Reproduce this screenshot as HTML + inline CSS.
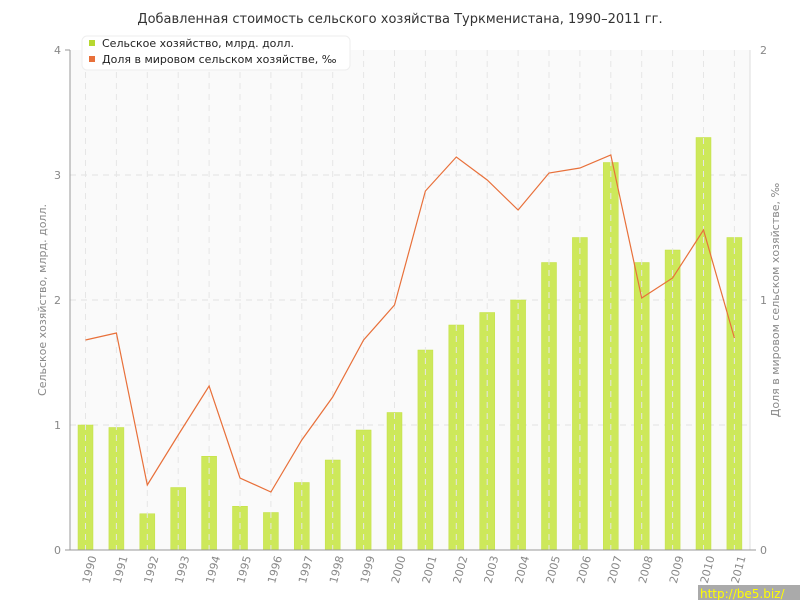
<!DOCTYPE html>
<html><head><meta charset="utf-8"><style>body{margin:0;background:#fff}svg{display:block}</style></head><body>
<svg width="800" height="600" xmlns="http://www.w3.org/2000/svg" font-family="'DejaVu Sans','Liberation Sans',sans-serif">
<rect width="800" height="600" fill="#fff"/>
<text x="400" y="23" text-anchor="middle" font-size="13" fill="#333">Добавленная стоимость сельского хозяйства Туркменистана, 1990–2011 гг.</text>
<rect x="70" y="50" width="680" height="500" fill="#fafafa"/>
<g stroke="#e2e2e2" stroke-dasharray="6,5" stroke-width="1">
<line x1="70" y1="175" x2="750" y2="175"/><line x1="70" y1="300" x2="750" y2="300"/><line x1="70" y1="425" x2="750" y2="425"/>
</g>
<g fill="#cde85a" stroke="#c2e040" stroke-width="0.5">
<rect x="78" y="425" width="15" height="125"/>
<rect x="108.9" y="427.5" width="15" height="122.5"/>
<rect x="139.8" y="513.75" width="15" height="36.25"/>
<rect x="170.7" y="487.5" width="15" height="62.5"/>
<rect x="201.6" y="456.25" width="15" height="93.75"/>
<rect x="232.5" y="506.25" width="15" height="43.75"/>
<rect x="263.4" y="512.5" width="15" height="37.5"/>
<rect x="294.3" y="482.5" width="15" height="67.5"/>
<rect x="325.2" y="460" width="15" height="90"/>
<rect x="356.1" y="430" width="15" height="120"/>
<rect x="387" y="412.5" width="15" height="137.5"/>
<rect x="417.9" y="350" width="15" height="200"/>
<rect x="448.8" y="325" width="15" height="225"/>
<rect x="479.7" y="312.5" width="15" height="237.5"/>
<rect x="510.6" y="300" width="15" height="250"/>
<rect x="541.5" y="262.5" width="15" height="287.5"/>
<rect x="572.4" y="237.5" width="15" height="312.5"/>
<rect x="603.3" y="162.5" width="15" height="387.5"/>
<rect x="634.2" y="262.5" width="15" height="287.5"/>
<rect x="665.1" y="250" width="15" height="300"/>
<rect x="696" y="137.5" width="15" height="412.5"/>
<rect x="726.9" y="237.5" width="15" height="312.5"/>
</g>
<path stroke="#e6e6e6" stroke-dasharray="6,5" d="M85.5 50V550M116.4 50V550M147.3 50V550M178.2 50V550M209.1 50V550M240 50V550M270.9 50V550M301.8 50V550M332.7 50V550M363.6 50V550M394.5 50V550M425.4 50V550M456.3 50V550M487.2 50V550M518.1 50V550M549 50V550M579.9 50V550M610.8 50V550M641.7 50V550M672.6 50V550M703.5 50V550M734.4 50V550"/>
<polyline fill="none" stroke="#e8703a" stroke-width="1.2" points="85.5,340 116.4,333 147.3,485 178.2,435 209.1,386 240,478 270.9,492 301.8,440 332.7,397 363.6,340 394.5,305 425.4,191 456.3,157 487.2,180 518.1,210 549,173 579.9,168 610.8,155 641.7,298 672.6,278 703.5,230 734.4,338"/>
<line x1="70" y1="50" x2="70" y2="550" stroke="#999"/>
<line x1="750" y1="50" x2="750" y2="550" stroke="#ddd"/>
<line x1="65" y1="550" x2="756" y2="550" stroke="#999"/>
<line x1="65" y1="50" x2="70" y2="50" stroke="#999"/>
<g font-size="11" fill="#888" text-anchor="end">
<text x="61" y="54">4</text><text x="61" y="179">3</text><text x="61" y="304">2</text><text x="61" y="429">1</text><text x="61" y="554">0</text>
</g>
<g font-size="11" fill="#888">
<text x="760" y="54">2</text><text x="760" y="304">1</text><text x="760" y="554">0</text>
</g>
<text transform="translate(46,300) rotate(-90)" text-anchor="middle" font-size="11" fill="#888">Сельское хозяйство, млрд. долл.</text>
<text transform="translate(779,300) rotate(-90)" text-anchor="middle" font-size="11" fill="#888">Доля в мировом сельском хозяйстве, ‰</text>
<g font-size="11" fill="#888">
<text transform="translate(89.5,584) rotate(-75)">1990</text>
<text transform="translate(120.4,584) rotate(-75)">1991</text>
<text transform="translate(151.3,584) rotate(-75)">1992</text>
<text transform="translate(182.2,584) rotate(-75)">1993</text>
<text transform="translate(213.1,584) rotate(-75)">1994</text>
<text transform="translate(244,584) rotate(-75)">1995</text>
<text transform="translate(274.9,584) rotate(-75)">1996</text>
<text transform="translate(305.8,584) rotate(-75)">1997</text>
<text transform="translate(336.7,584) rotate(-75)">1998</text>
<text transform="translate(367.6,584) rotate(-75)">1999</text>
<text transform="translate(398.5,584) rotate(-75)">2000</text>
<text transform="translate(429.4,584) rotate(-75)">2001</text>
<text transform="translate(460.3,584) rotate(-75)">2002</text>
<text transform="translate(491.2,584) rotate(-75)">2003</text>
<text transform="translate(522.1,584) rotate(-75)">2004</text>
<text transform="translate(553,584) rotate(-75)">2005</text>
<text transform="translate(583.9,584) rotate(-75)">2006</text>
<text transform="translate(614.8,584) rotate(-75)">2007</text>
<text transform="translate(645.7,584) rotate(-75)">2008</text>
<text transform="translate(676.6,584) rotate(-75)">2009</text>
<text transform="translate(707.5,584) rotate(-75)">2010</text>
<text transform="translate(738.4,584) rotate(-75)">2011</text>
</g>
<g>
<rect x="82" y="36" width="268" height="34" rx="5" fill="#fff" stroke="#eee"/>
<rect x="89" y="40" width="6" height="6" fill="#b7d830"/>
<text x="102" y="47" font-size="11" fill="#222">Сельское хозяйство, млрд. долл.</text>
<rect x="89" y="56" width="6" height="6" fill="#e8703a"/>
<text x="102" y="63" font-size="11" fill="#222">Доля в мировом сельском хозяйстве, ‰</text>
</g>
<rect x="698" y="585" width="102" height="15" fill="#aaa"/>
<text x="700" y="598" font-size="12" fill="#ff0">http://be5.biz/</text>
</svg>
</body></html>
